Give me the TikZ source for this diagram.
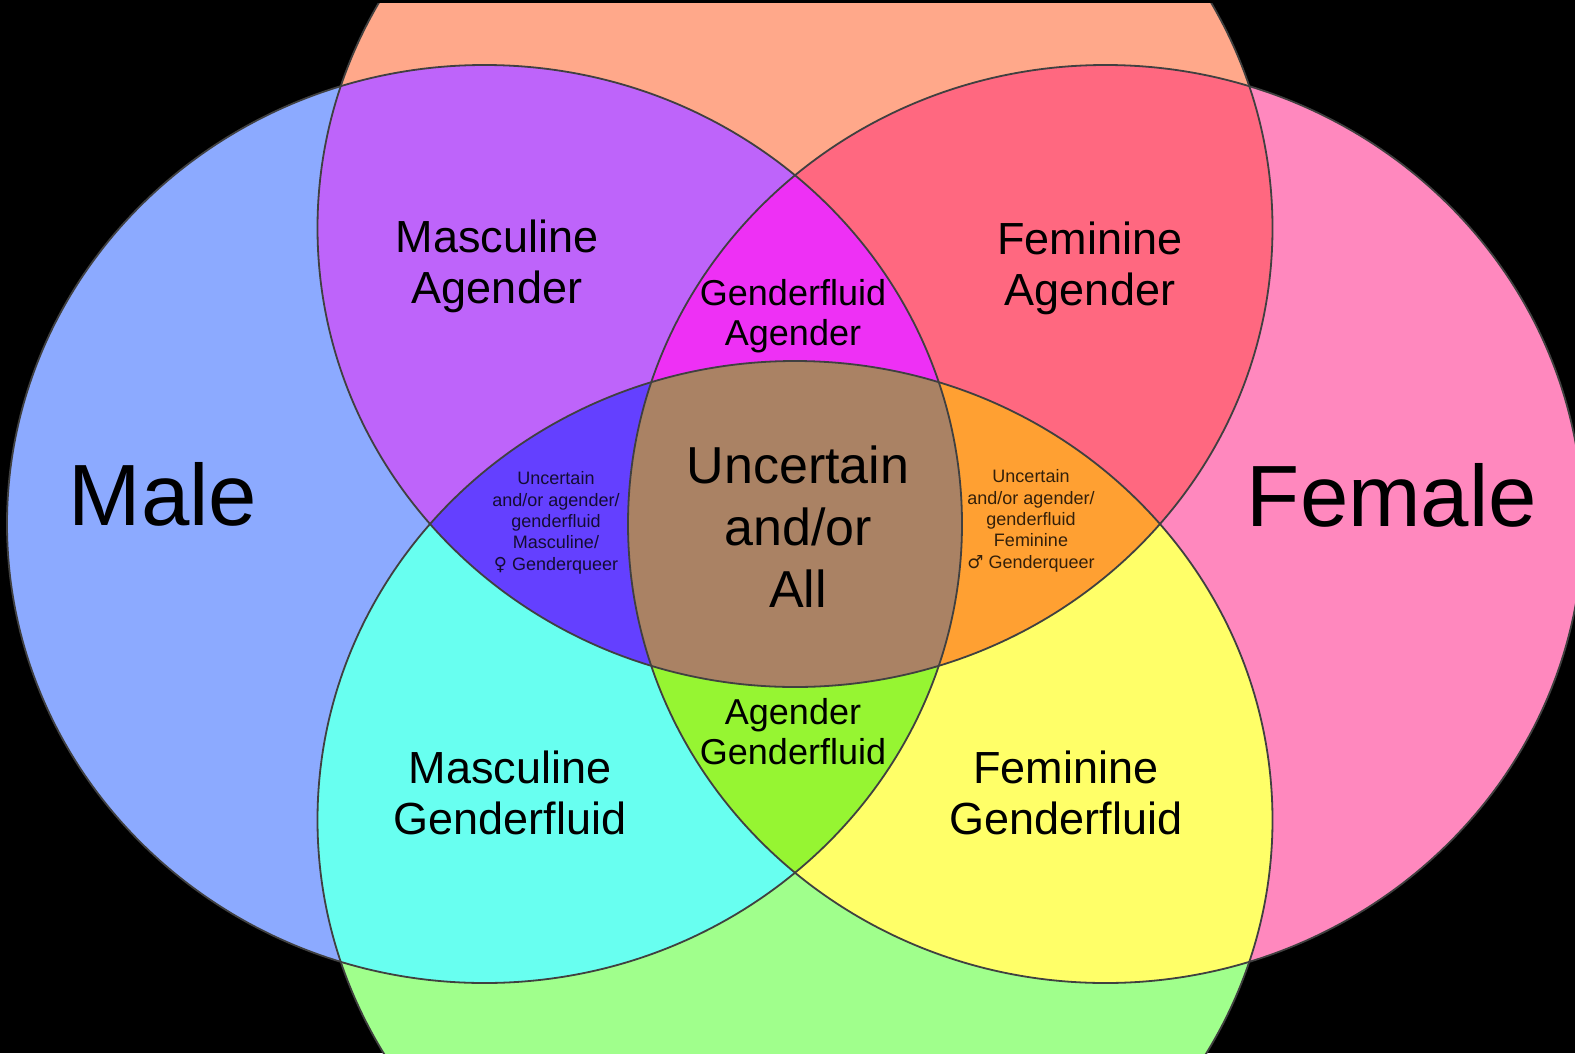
\documentclass[tikz,border=0pt]{standalone}
\usepackage{fontspec}
\setmainfont{Liberation Sans}
\newfontfamily\symfont{DejaVu Sans}
\definecolor{cM}{HTML}{8CAAFF}
\definecolor{cF}{HTML}{FF88BE}
\definecolor{cT}{HTML}{FFA88A}
\definecolor{cB}{HTML}{A0FF8C}
\definecolor{cMT}{HTML}{BE64FA}
\definecolor{cFT}{HTML}{FF6880}
\definecolor{cMB}{HTML}{68FFF0}
\definecolor{cFB}{HTML}{FFFF68}
\definecolor{cMFT}{HTML}{EE30F5}
\definecolor{cMFB}{HTML}{96F532}
\definecolor{cMTB}{HTML}{6440FF}
\definecolor{cFTB}{HTML}{FFA032}
\definecolor{cAll}{HTML}{AA8264}
\definecolor{edge}{HTML}{404040}
\tikzset{
  Mset/.style={insert path={(484.5,524) ellipse [x radius=477.5, y radius=459]}},
  Fset/.style={insert path={(1105.5,524) ellipse [x radius=477.5, y radius=459]}},
  Tset/.style={insert path={(795,228) ellipse [x radius=477.5, y radius=459]}},
  Bset/.style={insert path={(795,820) ellipse [x radius=477.5, y radius=459]}},
  outline/.style={draw=edge, line width=1.8pt},
  lbl/.style={inner sep=0pt, anchor=base, align=center, text=black},
  huge/.style={lbl, font=\fontsize{87}{100}\selectfont},
  big/.style={lbl, font=\fontsize{45}{51}\selectfont},
  mid/.style={lbl, font=\fontsize{36}{40}\selectfont},
  center/.style={lbl, font=\fontsize{52}{62}\selectfont},
  tiny/.style={lbl, font=\fontsize{18}{21.3}\selectfont, text opacity=0.8}
}
\begin{document}
\begin{tikzpicture}[x=1pt,y=-1pt]
\fill[black] (0,0) rectangle (1575,1053);
\useasboundingbox (0,0) rectangle (1575,1053);
\begin{scope}
\clip (0,3) rectangle (1575,1053);
% single sets
\fill[cM, Mset];
\fill[cF, Fset];
\fill[cT, Tset];
\fill[cB, Bset];
% pairs
\begin{scope}\clip[Mset]; \fill[cMT, Tset];\end{scope}
\begin{scope}\clip[Fset]; \fill[cFT, Tset];\end{scope}
\begin{scope}\clip[Mset]; \fill[cMB, Bset];\end{scope}
\begin{scope}\clip[Fset]; \fill[cFB, Bset];\end{scope}
% triples
\begin{scope}\clip[Mset]; \clip[Fset]; \fill[cMFT, Tset];\end{scope}
\begin{scope}\clip[Mset]; \clip[Fset]; \fill[cMFB, Bset];\end{scope}
\begin{scope}\clip[Mset]; \clip[Tset]; \fill[cMTB, Bset];\end{scope}
\begin{scope}\clip[Fset]; \clip[Tset]; \fill[cFTB, Bset];\end{scope}
% all four
\begin{scope}\clip[Mset]; \clip[Fset]; \clip[Tset]; \fill[cAll, Bset];\end{scope}
% outlines
\path[outline, Mset];
\path[outline, Fset];
\path[outline, Tset];
\path[outline, Bset];
\end{scope}
% labels (anchor = baseline of the last line)
\node[huge] (male) at (163,525) {Male};
\node[huge] (female) at (1392,526) {Female};
\node[big] (mascag) at (497,303) {Masculine\\Agender};
\node[big] (femag) at (1090,305) {Feminine\\Agender};
\node[big] (mascgf) at (510,834) {Masculine\\Genderfluid};
\node[big] (femgf) at (1066,834) {Feminine\\Genderfluid};
\node[mid] (gfag) at (793,345) {Genderfluid\\Agender};
\node[mid] (aggf) at (793,764) {Agender\\Genderfluid};
\node[center] (all) at (798,607) {Uncertain\\and/or\\All};
\node[tiny] (lsmall) at (556,570) {Uncertain\\and/or agender/\\genderfluid\\Masculine/\\{\symfont ♀} Genderqueer};
\node[tiny] (rsmall) at (1031,568) {Uncertain\\and/or agender/\\genderfluid\\Feminine\\{\symfont ♂} Genderqueer};
\end{tikzpicture}
\end{document}
